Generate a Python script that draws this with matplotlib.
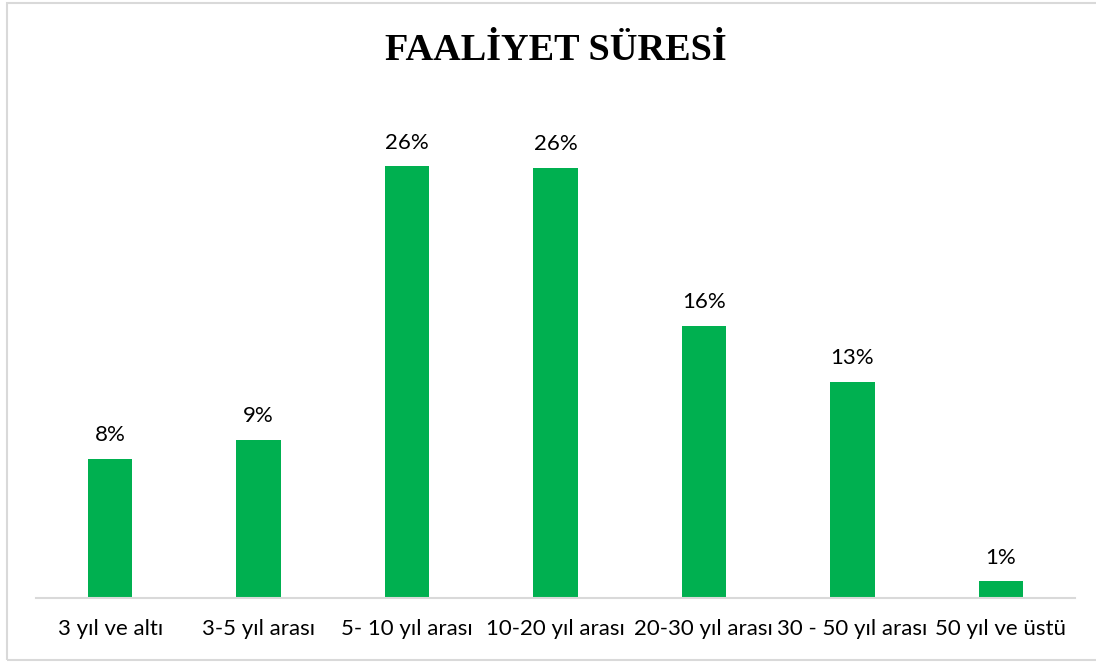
import matplotlib
matplotlib.use("Agg")
import matplotlib.pyplot as plt
from matplotlib.patches import Rectangle

categories = ["3 yıl ve altı", "3-5 yıl arası", "5- 10 yıl arası", "10-20 yıl arası",
              "20-30 yıl arası", "30 - 50 yıl arası", "50 yıl ve üstü"]
values = [8.4, 9.5, 26.0, 25.9, 16.4, 13.0, 1.0]
labels = ["8%", "9%", "26%", "26%", "16%", "13%", "1%"]
title = "FAALİYET SÜRESİ"

W, H = 1096, 662
fig = plt.figure(figsize=(W / 100, H / 100), dpi=100)
ax = fig.add_axes([36 / W, (H - 598) / H, (1075 - 36) / W, (598 - 100) / H])

x = list(range(len(categories)))
ax.bar(x, values, width=0.30, color="#00B050", zorder=2)
ax.set_xlim(-0.5, len(categories) - 0.5)
ax.set_ylim(0, 30)

for xi, v, lab in zip(x, values, labels):
    ax.annotate(lab, (xi, v), xytext=(0, 10), textcoords="offset points",
                ha="center", va="bottom", fontsize=16, family="Lato", color="#000000")

ax.set_xticks(x)
ax.set_xticklabels(categories, fontsize=16, family="Lato", color="#000000")
ax.tick_params(axis="x", length=0, pad=15)
ax.set_yticks([])
for s in ["top", "right", "left"]:
    ax.spines[s].set_visible(False)
ax.spines["bottom"].set_color("#D9D9D9")
ax.spines["bottom"].set_linewidth(1.5)

fig.text(556 / W, 1 - 50 / H, title, ha="center", va="center",
         fontsize=27.5, fontweight="bold", family="Liberation Serif", color="#000000")

fig.patches.append(Rectangle((6.5 / W, 2.5 / H), 1.1, (659.5 - 2.5) / H,
                             transform=fig.transFigure, fill=False,
                             edgecolor="#D9D9D9", linewidth=1.5))

fig.savefig("out.png", dpi=100)
